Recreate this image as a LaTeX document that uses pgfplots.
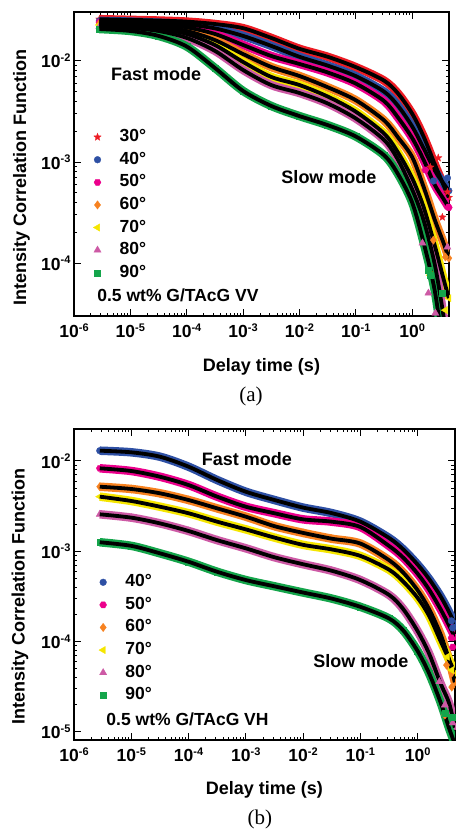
\documentclass[border=0pt]{standalone}
\usepackage{fontspec}
\setmainfont{Liberation Sans}
\newfontfamily\timesfont{Liberation Serif}
\usepackage{pgfplots}
\usepackage{pgfplotstable}
\pgfplotsset{compat=1.18}
\usetikzlibrary{plotmarks}

\definecolor{c30}{RGB}{237,28,36}
\definecolor{c40}{RGB}{46,80,164}
\definecolor{c50}{RGB}{236,0,140}
\definecolor{c60}{RGB}{247,130,32}
\definecolor{c70}{RGB}{245,230,0}
\definecolor{c80}{RGB}{205,90,165}
\definecolor{c90}{RGB}{20,165,75}

\pgfdeclareplotmark{fstar}{%
  \pgfpathmoveto{\pgfpointpolar{90}{\pgfplotmarksize}}%
  \pgfpathlineto{\pgfpointpolar{126}{0.42\pgfplotmarksize}}%
  \pgfpathlineto{\pgfpointpolar{162}{\pgfplotmarksize}}%
  \pgfpathlineto{\pgfpointpolar{198}{0.42\pgfplotmarksize}}%
  \pgfpathlineto{\pgfpointpolar{234}{\pgfplotmarksize}}%
  \pgfpathlineto{\pgfpointpolar{270}{0.42\pgfplotmarksize}}%
  \pgfpathlineto{\pgfpointpolar{306}{\pgfplotmarksize}}%
  \pgfpathlineto{\pgfpointpolar{342}{0.42\pgfplotmarksize}}%
  \pgfpathlineto{\pgfpointpolar{18}{\pgfplotmarksize}}%
  \pgfpathlineto{\pgfpointpolar{54}{0.42\pgfplotmarksize}}%
  \pgfpathclose\pgfusepathqfillstroke}
\pgfdeclareplotmark{fhex}{%
  \pgfpathmoveto{\pgfpointpolar{0}{\pgfplotmarksize}}%
  \pgfpathlineto{\pgfpointpolar{60}{\pgfplotmarksize}}%
  \pgfpathlineto{\pgfpointpolar{120}{\pgfplotmarksize}}%
  \pgfpathlineto{\pgfpointpolar{180}{\pgfplotmarksize}}%
  \pgfpathlineto{\pgfpointpolar{240}{\pgfplotmarksize}}%
  \pgfpathlineto{\pgfpointpolar{300}{\pgfplotmarksize}}%
  \pgfpathclose\pgfusepathqfillstroke}

\newcommand\bigbf{\fontsize{17.5}{20}\selectfont\bfseries}
\newcommand\lab{\fontsize{18}{21}\selectfont\bfseries}
\newcommand\pw[1]{10\raisebox{6.5pt}{\fontsize{11}{12}\selectfont\bfseries #1}}

% ---------------- panel (a) : VV ----------------
\pgfplotstableread{
t g
2.82e-6 0.0259
1e-5 0.0255
3.16e-5 0.0251
1e-4 0.0245
3.16e-4 0.0232
1e-3 0.0211
3.16e-3 0.0169
0.01 0.0132
0.0316 0.0110
0.1 0.00869
0.316 0.00640
0.562 0.00476
1 0.00301
1.585 0.00180
2.512 0.000955
3.548 0.000603
4.467 0.000447
}\aA
\pgfplotstableread{
t g
2.82e-6 0.0249
1e-5 0.0245
3.16e-5 0.0239
1e-4 0.0230
3.16e-4 0.0210
1e-3 0.0177
3.16e-3 0.0141
0.01 0.0110
0.0316 0.00900
0.1 0.00708
0.316 0.00498
0.562 0.00359
1 0.00225
1.585 0.00138
2.512 0.000828
3.548 0.000620
4.467 0.000520
}\aB
\pgfplotstableread{
t g
2.82e-6 0.0242
1e-5 0.0238
3.16e-5 0.0230
1e-4 0.0215
3.16e-4 0.0185
1e-3 0.0144
3.16e-3 0.0112
0.01 0.00934
0.0316 0.00770
0.1 0.00597
0.316 0.00402
0.562 0.00275
1 0.00173
1.585 0.00106
2.512 0.000596
3.548 0.000437
4.467 0.000355
}\aC
\pgfplotstableread{
t g
2.82e-6 0.0234
1e-5 0.0229
3.16e-5 0.0220
1e-4 0.0198
3.16e-4 0.0161
1e-3 0.0117
3.16e-3 0.00872
0.01 0.00710
0.0316 0.00550
0.1 0.00409
0.316 0.00259
0.562 0.00175
1 0.00112
1.585 0.000575
2.512 0.000269
3.548 0.000162
4.467 0.000112
}\aD
\pgfplotstableread{
t g
2.82e-6 0.0227
1e-5 0.0221
3.16e-5 0.0210
1e-4 0.0185
3.16e-4 0.0144
1e-3 0.00977
3.16e-3 0.00695
0.01 0.00578
0.0316 0.00445
0.1 0.00315
0.316 0.00192
0.562 0.00124
1 0.000692
1.585 0.000363
2.512 0.000150
3.548 0.0000720
4.467 0.0000450
}\aE
\pgfplotstableread{
t g
2.82e-6 0.0219
1e-5 0.0212
3.16e-5 0.0198
1e-4 0.0169
3.16e-4 0.0126
1e-3 0.00814
3.16e-3 0.00578
0.01 0.00482
0.0316 0.00380
0.1 0.00270
0.316 0.00166
0.562 0.00105
1 0.000537
1.585 0.000269
2.512 0.0000977
3.548 0.0000316
4.467 0.0000126
}\aF
\pgfplotstableread{
t g
2.82e-6 0.0207
1e-5 0.0198
3.16e-5 0.0177
1e-4 0.0139
3.16e-4 0.00853
1e-3 0.00505
3.16e-3 0.00359
0.01 0.00285
0.0316 0.00232
0.1 0.00179
0.316 0.00117
0.562 0.000759
1 0.000398
1.585 0.000162
2.512 0.0000537
3.548 0.0000141
}\aG

% ---------------- panel (b) : VH ----------------
\pgfplotstableread{
t g
2.82e-6 0.0130
1e-5 0.01248
3.16e-5 0.01116
1e-4 0.00865
3.16e-4 0.00616
1e-3 0.00457
3.16e-3 0.00370
0.01 0.00305
0.0316 0.00265
0.1 0.00213
0.316 0.00141
0.562 0.00105
1 0.000714
1.585 0.000495
2.512 0.000319
3.548 0.000213
4.467 0.000158
}\bB
\pgfplotstableread{
t g
2.82e-6 0.00830
1e-5 0.00775
3.16e-5 0.00670
1e-4 0.00542
3.16e-4 0.00403
1e-3 0.00312
3.16e-3 0.00264
0.01 0.00226
0.0316 0.00213
0.1 0.00186
0.316 0.00115
0.562 0.000851
1 0.000566
1.585 0.000378
2.512 0.000230
3.548 0.000151
4.467 0.000112
}\bC
\pgfplotstableread{
t g
2.82e-6 0.00519
1e-5 0.00490
3.16e-5 0.00439
1e-4 0.00370
3.16e-4 0.00299
1e-3 0.00242
3.16e-3 0.00190
0.01 0.00160
0.0316 0.00138
0.1 0.00122
0.316 0.000800
0.562 0.000581
1 0.000371
1.585 0.000230
2.512 0.000121
3.548 0.0000631
4.467 0.0000355
}\bD
\pgfplotstableread{
t g
2.82e-6 0.00403
1e-5 0.00361
3.16e-5 0.00312
1e-4 0.00264
3.16e-4 0.00213
1e-3 0.00175
3.16e-3 0.00142
0.01 0.00118
0.0316 0.00105
0.1 0.000890
0.316 0.000628
0.562 0.000462
1 0.000306
1.585 0.000194
2.512 0.000102
3.548 0.0000631
4.467 0.0000447
}\bE
\pgfplotstableread{
t g
2.82e-6 0.00257
1e-5 0.00236
3.16e-5 0.00204
1e-4 0.00168
3.16e-4 0.00133
1e-3 0.00108
3.16e-3 0.000860
0.01 0.000720
0.0316 0.000610
0.1 0.000481
0.316 0.000330
0.562 0.000229
1 0.000131
1.585 0.0000740
2.512 0.0000346
3.548 0.0000209
4.467 0.0000112
}\bF
\pgfplotstableread{
t g
2.82e-6 0.00126
1e-5 0.00115
3.16e-5 0.000951
1e-4 0.000767
3.16e-4 0.000594
1e-3 0.000481
3.16e-3 0.000410
0.01 0.000350
0.0316 0.000300
0.1 0.000243
0.316 0.000181
0.562 0.000133
1 0.0000789
1.585 0.0000447
2.512 0.0000214
3.548 0.0000110
4.467 0.0000074
}\bG

\tikzset{
  mys30/.style={color=c30, mark=fstar, mark size=3.9pt},
  mys40/.style={color=c40, mark=*, mark size=3.4pt},
  mys50/.style={color=c50, mark=fhex, mark size=3.5pt},
  mys60/.style={color=c60, mark=diamond*, mark size=4.2pt},
  mys70/.style={color=c70, mark=triangle*, mark size=4.2pt},
  mys80/.style={color=c80, mark=triangle*, mark size=4.2pt},
  mys90/.style={color=c90, mark=square*, mark size=3.0pt},
}

\begin{document}
\begin{tikzpicture}
\path[use as bounding box] (0pt,0pt) rectangle (455pt,-832pt);

% ================= (a) =================
\begin{axis}[at={(74pt,-12pt)}, anchor=north west, width=375pt, height=304pt,
  scale only axis, xmode=log, ymode=log,
  xmin=1e-6, xmax=4.5, ymin=3.0e-5, ymax=0.0305,
  xtick={1e-6,1e-5,1e-4,1e-3,1e-2,1e-1,1},
  xticklabels={\pw{-6},\pw{-5},\pw{-4},\pw{-3},\pw{-2},\pw{-1},\pw{0}},
  ytick={1e-4,1e-3,1e-2}, yticklabels={\pw{-4},\pw{-3},\pw{-2}},
  tick label style={font=\bigbf},
  xticklabel style={yshift=-4pt},
  axis line style={line width=1.2pt},
  major tick length=7pt, minor tick length=3.5pt,
  every tick/.style={black, line width=1pt},
  tick align=inside,
  clip mode=individual,
  xlabel={Delay time (s)},
  ylabel={Intensity Correlation Function},
  label style={font=\lab},
  xlabel style={at={(axis description cs:0.5,-0.168)}, anchor=center},
  ylabel style={at={(axis description cs:-0.14,0.457)}, anchor=center},
  legend cell align=left,
  legend style={draw=none, fill=none, font=\bigbf, anchor=north west, inner sep=0pt,
      at={(0.051,0.622)},
      row sep=2.6pt, nodes={inner sep=2pt, text height=12.5pt, text depth=3.5pt},
      /tikz/every odd column/.append style={column sep=16.5pt}}]
\addplot[forget plot, mys30, line width=8.5pt, smooth, mark options={line width=0.3pt}] table {\aA};
\addplot[forget plot, mys40, line width=8.5pt, smooth, mark options={line width=0.3pt}] table {\aB};
\addplot[forget plot, mys50, line width=8.5pt, smooth, mark options={line width=0.3pt}] table {\aC};
\addplot[forget plot, mys60, line width=8.5pt, smooth, mark options={line width=0.3pt}] table {\aD};
\addplot[forget plot, mys70, line width=8.5pt, smooth, mark options={line width=0.3pt, rotate=90}] table {\aE};
\addplot[forget plot, mys80, line width=8.5pt, smooth, mark options={line width=0.3pt}] table {\aF};
\addplot[forget plot, mys90, line width=8.5pt, smooth, mark options={line width=0.3pt}] table {\aG};
\addplot[forget plot, black, line width=3.8pt, smooth, no marks] table {\aA};
\addplot[forget plot, black, line width=3.8pt, smooth, no marks] table {\aB};
\addplot[forget plot, black, line width=3.8pt, smooth, no marks] table {\aC};
\addplot[forget plot, black, line width=3.8pt, smooth, no marks] table {\aD};
\addplot[forget plot, black, line width=3.8pt, smooth, no marks] table {\aE};
\addplot[forget plot, black, line width=3.8pt, smooth, no marks] table {\aF};
\addplot[forget plot, black, line width=3.8pt, smooth, no marks] table {\aG};
\addplot[only marks, mys30, mark options={line width=0.3pt}] coordinates {(2.10,8.9e-4) (3.43,2.85e-4) (4.22,5.05e-4) (2.9,1.1e-3)};
\addlegendentry{30°}
\addplot[only marks, mys40, mark options={line width=0.3pt}] coordinates {(2.38,6.5e-4) (4.22,6.95e-4)};
\addlegendentry{40°}
\addplot[only marks, mys50, mark options={line width=0.3pt}] coordinates {(1.71,8.34e-4) (4.40,3.58e-4)};
\addlegendentry{50°}
\addplot[only marks, mys60, mark options={line width=0.3pt}] coordinates {(2.38,1.69e-4) (3.89,1.15e-4)};
\addlegendentry{60°}
\addplot[only marks, mys70, mark options={line width=0.3pt, rotate=90}] coordinates {(2.10,7.6e-5) (3.89,3.43e-5)};
\addlegendentry{70°}
\addplot[only marks, mys80, mark options={line width=0.3pt}] coordinates {(1.52,1.58e-4) (1.94,5.05e-5) (2.58,3.2e-5) (4.22,1.44e-4)};
\addlegendentry{80°}
\addplot[only marks, mys90, mark options={line width=0.3pt}] coordinates {(1.94,8.53e-5) (2.10,7.6e-5) (3.43,5.05e-5)};
\addlegendentry{90°}
\node[font=\lab] at (axis description cs:0.219,0.796) {Fast mode};
\node[font=\lab] at (axis description cs:0.68,0.457) {Slow mode};
\node[font=\bigbf, anchor=west] at (axis description cs:0.053,0.069) {0.5 wt\% G/TAcG VV};
\node[font=\fontsize{21}{24}\selectfont\timesfont] at (axis description cs:0.472,-0.266) {(a)};
\end{axis}

% ================= (b) =================
\begin{axis}[at={(74pt,-429pt)}, anchor=north west, width=381pt, height=311pt,
  scale only axis, xmode=log, ymode=log,
  xmin=1e-6, xmax=4.5, ymin=8.15e-6, ymax=0.0226,
  xtick={1e-6,1e-5,1e-4,1e-3,1e-2,1e-1,1},
  xticklabels={\pw{-6},\pw{-5},\pw{-4},\pw{-3},\pw{-2},\pw{-1},\pw{0}},
  ytick={1e-5,1e-4,1e-3,1e-2}, yticklabels={\pw{-5},\pw{-4},\pw{-3},\pw{-2}},
  tick label style={font=\bigbf},
  xticklabel style={yshift=-4pt},
  axis line style={line width=1.2pt},
  major tick length=7pt, minor tick length=3.5pt,
  every tick/.style={black, line width=1pt},
  tick align=inside,
  clip mode=individual,
  xlabel={Delay time (s)},
  ylabel={Intensity Correlation Function},
  label style={font=\lab},
  xlabel style={at={(axis description cs:0.5,-0.161)}, anchor=center},
  ylabel style={at={(axis description cs:-0.142,0.46)}, anchor=center},
  legend cell align=left,
  legend style={draw=none, fill=none, font=\bigbf, anchor=north west, inner sep=0pt,
      at={(0.065,0.540)},
      row sep=2.6pt, nodes={inner sep=2pt, text height=12.5pt, text depth=3.5pt},
      /tikz/every odd column/.append style={column sep=16.5pt}}]
\addplot[forget plot, mys40, line width=8.5pt, smooth, mark options={line width=0.3pt}] table {\bB};
\addplot[forget plot, mys50, line width=8.5pt, smooth, mark options={line width=0.3pt}] table {\bC};
\addplot[forget plot, mys60, line width=8.5pt, smooth, mark options={line width=0.3pt}] table {\bD};
\addplot[forget plot, mys70, line width=8.5pt, smooth, mark options={line width=0.3pt, rotate=90}] table {\bE};
\addplot[forget plot, mys80, line width=8.5pt, smooth, mark options={line width=0.3pt}] table {\bF};
\addplot[forget plot, mys90, line width=8.5pt, smooth, mark options={line width=0.3pt}] table {\bG};
\addplot[forget plot, black, line width=3.8pt, smooth, no marks] table {\bB};
\addplot[forget plot, black, line width=3.8pt, smooth, no marks] table {\bC};
\addplot[forget plot, black, line width=3.8pt, smooth, no marks] table {\bD};
\addplot[forget plot, black, line width=3.8pt, smooth, no marks] table {\bE};
\addplot[forget plot, black, line width=3.8pt, smooth, no marks] table {\bF};
\addplot[forget plot, black, line width=3.8pt, smooth, no marks] table {\bG};
\addplot[only marks, mys40, mark options={line width=0.3pt}] coordinates {(4.11,1.42e-4) (3.9,1.7e-4)};
\addlegendentry{40°}
\addplot[only marks, mys50, mark options={line width=0.3pt}] coordinates {(4.11,8.71e-5) (3.9,1.1e-4)};
\addlegendentry{50°}
\addplot[only marks, mys60, mark options={line width=0.3pt}] coordinates {(2.99,1.54e-5) (3.95,3.14e-5) (3.95,4.49e-5) (3.2,5.5e-5)};
\addlegendentry{60°}
\addplot[only marks, mys70, mark options={line width=0.3pt, rotate=90}] coordinates {(3.95,4.84e-5) (3.3,6.8e-5)};
\addlegendentry{70°}
\addplot[only marks, mys80, mark options={line width=0.3pt}] coordinates {(2.99,1.99e-5) (4.11,1.26e-5) (2.4,3.6e-5)};
\addlegendentry{80°}
\addplot[only marks, mys90, mark options={line width=0.3pt}] coordinates {(2.99,1.62e-5) (3.95,1.46e-5)};
\addlegendentry{90°}
\node[font=\lab] at (axis description cs:0.454,0.904) {Fast mode};
\node[font=\lab] at (axis description cs:0.753,0.254) {Slow mode};
\node[font=\bigbf, anchor=west] at (axis description cs:0.076,0.0675) {0.5 wt\% G/TAcG VH};
\node[font=\fontsize{21}{24}\selectfont\timesfont] at (axis description cs:0.488,-0.257) {(b)};
\end{axis}
\end{tikzpicture}
\end{document}
